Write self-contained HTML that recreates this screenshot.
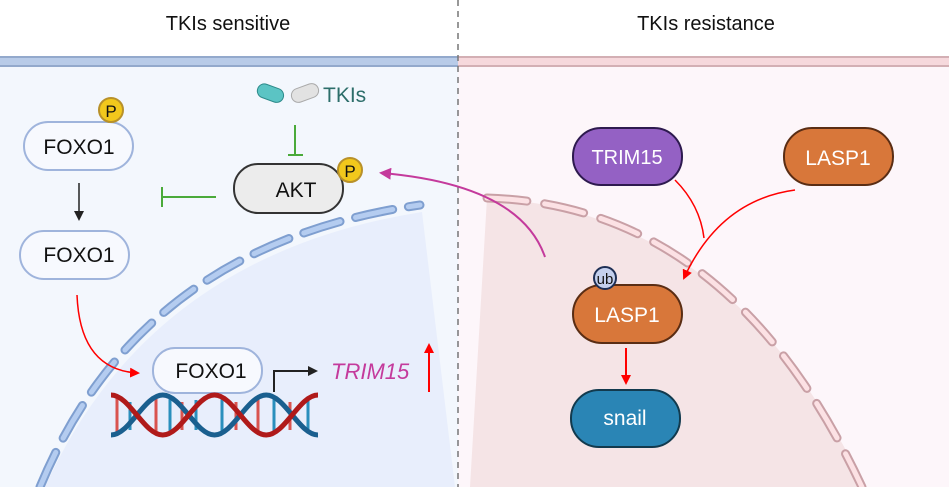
<!DOCTYPE html>
<html><head><meta charset="utf-8"><style>
html,body{margin:0;padding:0;background:#fff}
svg{display:block}
text{font-family:"Liberation Sans",sans-serif}
</style></head><body>
<svg width="949" height="487" viewBox="0 0 949 487" xmlns="http://www.w3.org/2000/svg">
<defs>
<marker id="ar" markerWidth="10" markerHeight="10" refX="8" refY="5" orient="auto" markerUnits="userSpaceOnUse"><path d="M0,0 L10,5 L0,10 Z" fill="#f00"/></marker>
<marker id="ab" markerWidth="10" markerHeight="10" refX="8" refY="5" orient="auto" markerUnits="userSpaceOnUse"><path d="M0,0 L10,5 L0,10 Z" fill="#222"/></marker>
<marker id="am" markerWidth="12" markerHeight="12" refX="9" refY="6" orient="auto" markerUnits="userSpaceOnUse"><path d="M0,0 L12,6 L0,12 Z" fill="#c43a9c"/></marker>
</defs>
<rect x="0" y="0" width="949" height="487" fill="#fff"/>
<text x="228" y="30" font-size="20" text-anchor="middle" fill="#111">TKIs sensitive</text>
<text x="706" y="30" font-size="20" text-anchor="middle" fill="#111">TKIs resistance</text>
<rect x="0" y="67" width="458" height="420" fill="#f3f7fd"/>
<rect x="458" y="67" width="491" height="420" fill="#fdf6fa"/>
<rect x="0" y="56" width="458" height="11" fill="#b8cbe8"/>
<rect x="0" y="56" width="458" height="2" fill="#93a9cc"/>
<rect x="0" y="65" width="458" height="2" fill="#93a9cc"/>
<rect x="458" y="56" width="491" height="11" fill="#f6d8dc"/>
<rect x="458" y="56" width="491" height="2" fill="#d3afb4"/>
<rect x="458" y="65" width="491" height="2" fill="#d3afb4"/>
<path d="M45,487 Q150,255 422,212 L455,487 Z" fill="#e8eefc"/>
<path d="M40,487 Q140,245 420,205" fill="none" stroke="#7f9fd0" stroke-width="9" stroke-dasharray="38,16" stroke-linecap="round"/>
<path d="M40,487 Q140,245 420,205" fill="none" stroke="#b4ccf0" stroke-width="5" stroke-dasharray="38,16" stroke-linecap="round"/>
<path d="M487,198 Q730,210 865,487 L470,487 Z" fill="#f5e4e6"/>
<path d="M487,198 Q730,205 862,487" fill="none" stroke="#c9a0a6" stroke-width="9" stroke-dasharray="40,18" stroke-linecap="round"/>
<path d="M487,198 Q730,205 862,487" fill="none" stroke="#fce1e4" stroke-width="5" stroke-dasharray="40,18" stroke-linecap="round"/>
<line x1="458" y1="0" x2="458" y2="487" stroke="#777" stroke-width="1.5" stroke-dasharray="6,5"/>
<rect x="24" y="122" width="109" height="48" rx="24" fill="#f7f9fe" stroke="#9fb4dc" stroke-width="2"/>
<text x="79" y="154" font-size="21" text-anchor="middle" fill="#111">FOXO1</text>
<circle cx="111" cy="110" r="12" fill="#f2c81c" stroke="#b8912a" stroke-width="2"/>
<text x="111" y="117" font-size="17" text-anchor="middle" fill="#111">P</text>
<line x1="79" y1="183" x2="79" y2="219" stroke="#222" stroke-width="1.5" marker-end="url(#ab)"/>
<rect x="20" y="231" width="109" height="48" rx="24" fill="#f7f9fe" stroke="#9fb4dc" stroke-width="2"/>
<text x="79" y="262" font-size="21" text-anchor="middle" fill="#111">FOXO1</text>
<rect x="234" y="164" width="109" height="49" rx="24" fill="#ececec" stroke="#333" stroke-width="2"/>
<text x="296" y="197" font-size="21" text-anchor="middle" fill="#111">AKT</text>
<circle cx="350" cy="170" r="12" fill="#f2c81c" stroke="#b8912a" stroke-width="2"/>
<text x="350" y="177" font-size="17" text-anchor="middle" fill="#111">P</text>
<line x1="216" y1="197" x2="162" y2="197" stroke="#4aaa3a" stroke-width="2"/>
<line x1="162" y1="187" x2="162" y2="207" stroke="#4aaa3a" stroke-width="2"/>
<line x1="295" y1="125" x2="295" y2="155" stroke="#4aaa3a" stroke-width="2"/>
<line x1="288" y1="155" x2="303" y2="155" stroke="#4aaa3a" stroke-width="2"/>
<g transform="rotate(20 270 93)"><rect x="257" y="86" width="27" height="14" rx="7" fill="#5bc4c4" stroke="#2c8a8a" stroke-width="1"/></g>
<g transform="rotate(-20 305 93)"><rect x="291" y="86" width="28" height="14" rx="7" fill="#e2e2e2" stroke="#aaa" stroke-width="1"/></g>
<text x="323" y="102" font-size="21" fill="#2d6e6a">TKIs</text>
<path d="M545,257 Q520,185 382,173" fill="none" stroke="#c43a9c" stroke-width="2" marker-end="url(#am)"/>
<path d="M77,295 Q80,370 138,373" fill="none" stroke="#f00" stroke-width="1.5" marker-end="url(#ar)"/>
<rect x="153" y="348" width="109" height="45" rx="22" fill="#f7f9fe" stroke="#9fb4dc" stroke-width="2"/>
<text x="211" y="378" font-size="21" text-anchor="middle" fill="#111">FOXO1</text>
<path d="M274,392 L274,371 L316,371" fill="none" stroke="#222" stroke-width="2" marker-end="url(#ab)"/>
<text x="331" y="379" font-size="22" font-style="italic" fill="#c43a9c">TRIM15</text>
<line x1="429" y1="392" x2="429" y2="345" stroke="#f00" stroke-width="2" marker-end="url(#ar)"/>
<g stroke-width="3">
<line x1="117" y1="398" x2="117" y2="432" stroke="#d9534f"/><line x1="130" y1="402" x2="130" y2="430" stroke="#2a8fbd"/>
<line x1="156" y1="398" x2="156" y2="432" stroke="#d9534f"/><line x1="170" y1="398" x2="170" y2="432" stroke="#2a8fbd"/>
<line x1="182" y1="402" x2="182" y2="430" stroke="#d9534f"/><line x1="196" y1="400" x2="196" y2="430" stroke="#2a8fbd"/>
<line x1="222" y1="398" x2="222" y2="432" stroke="#2a8fbd"/><line x1="236" y1="402" x2="236" y2="430" stroke="#d9534f"/>
<line x1="258" y1="398" x2="258" y2="432" stroke="#d9534f"/><line x1="274" y1="398" x2="274" y2="432" stroke="#2a8fbd"/>
<line x1="290" y1="402" x2="290" y2="430" stroke="#d9534f"/><line x1="308" y1="398" x2="308" y2="432" stroke="#2a8fbd"/>
</g>
<path d="M111,435 C129.6,435 144.1,395 162.75,395 C181.4,395 195.9,435 214.5,435 C233.1,435 247.6,395 266.25,395 C284.9,395 299.4,435 318,435" fill="none" stroke="#1a5f8f" stroke-width="5"/>
<path d="M111,395 C129.6,395 144.1,435 162.75,435 C181.4,435 195.9,395 214.5,395 C233.1,395 247.6,435 266.25,435 C284.9,435 299.4,395 318,395" fill="none" stroke="#b01a1a" stroke-width="5"/>
<rect x="573" y="128" width="109" height="57" rx="28" fill="#9461c4" stroke="#2e1a4f" stroke-width="2"/>
<text x="627" y="164" font-size="20" text-anchor="middle" fill="#fff">TRIM15</text>
<rect x="784" y="128" width="109" height="57" rx="28" fill="#d8773a" stroke="#5a2d14" stroke-width="2"/>
<text x="838" y="165" font-size="21" text-anchor="middle" fill="#fff">LASP1</text>
<path d="M675,180 Q700,205 704,238" fill="none" stroke="#f00" stroke-width="1.5"/>
<path d="M795,190 Q720,200 684,278" fill="none" stroke="#f00" stroke-width="1.5" marker-end="url(#ar)"/>
<rect x="573" y="285" width="109" height="58" rx="29" fill="#d8773a" stroke="#5a2d14" stroke-width="2"/>
<text x="627" y="322" font-size="21" text-anchor="middle" fill="#fff">LASP1</text>
<circle cx="605" cy="278" r="11" fill="#c4d0ee" stroke="#1e2f55" stroke-width="2"/>
<text x="605" y="284" font-size="15" text-anchor="middle" fill="#111">ub</text>
<line x1="626" y1="348" x2="626" y2="383" stroke="#f00" stroke-width="2" marker-end="url(#ar)"/>
<rect x="571" y="390" width="109" height="57" rx="28" fill="#2a85b5" stroke="#123a4e" stroke-width="2"/>
<text x="625" y="425" font-size="21" text-anchor="middle" fill="#fff">snail</text>
</svg>
</body></html>
